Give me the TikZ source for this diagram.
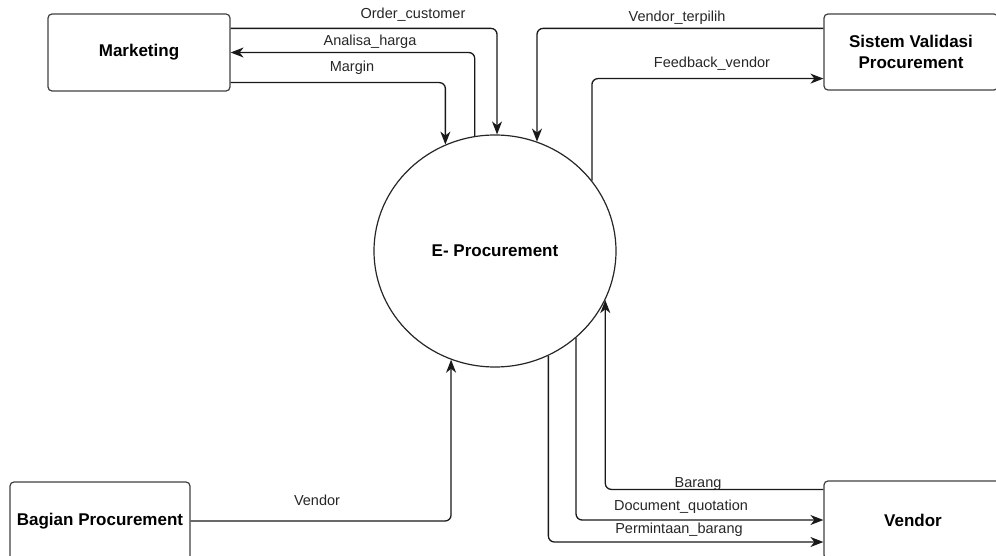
\documentclass[tikz,border=0pt]{standalone}
\usepackage{fontspec}
\setmainfont{Liberation Sans}
\usetikzlibrary{arrows.meta,calc,shapes.geometric}

\tikzset{
  entity/.style={draw=black!75, line width=1.2pt, rounded corners=4pt,
    rectangle, inner sep=0pt, align=center,
    font=\fontsize{17}{21}\selectfont\bfseries},
  process/.style={draw=black!85, line width=1.2pt, ellipse, inner sep=0pt,
    minimum width=242pt, minimum height=232pt,
    font=\fontsize{17}{21}\selectfont\bfseries},
  flow/.style={draw=black!90, line width=1.3pt, rounded corners=6pt,
    -{Stealth[length=13pt,width=10pt,inset=4pt]}},
  lbl/.style={inner sep=0pt, text=black!85,
    font=\fontsize{14.5}{17}\selectfont}
}

\begin{document}
\begin{tikzpicture}[x=1pt,y=-1pt]
  \useasboundingbox (0,0) rectangle (996,556);

  % external entities and the process
  \node[entity, minimum width=182pt, minimum height=77pt] (mkt) at (139,52.5) {Marketing};
  \node[entity, minimum width=174pt, minimum height=76pt] (sv) at (911,52) {Sistem Validasi\\Procurement};
  \node[entity, minimum width=180pt, minimum height=78pt] (bp) at (100,521) {Bagian Procurement};
  \node[entity, minimum width=178pt, minimum height=78pt] (vd) at (913,520) {Vendor};
  \node[process] (ep) at (495,251) {E- Procurement};

  % data flows with Marketing
  \draw[flow] ($(mkt.north east)+(0,15)$) -| (ep.89.5);
  \draw[flow] (ep.100.4) |- (mkt.east);
  \draw[flow] ($(mkt.south east)+(0,-9)$) -| (ep.115.9);

  % data flows with Sistem Validasi Procurement
  \draw[flow] ($(sv.north west)+(0,15)$) -| (ep.69.4);
  \draw[flow] (ep.36.3) |- ($(sv.south west)+(0,-12)$);

  % data flows with Vendor
  \draw[flow] ($(vd.north west)+(0,9)$) -| (ep.-24.8);
  \draw[flow] (ep.-47.4) |- (vd.west);
  \draw[flow] (ep.-63.6) |- ($(vd.west)+(0,22)$);

  % data flow from Bagian Procurement
  \draw[flow] (bp.east) -| (ep.248.9);

  % flow labels
  \node[lbl] (l1) at (413,15) {Order\_customer};
  \node[lbl] (l2) at (370,42) {Analisa\_harga};
  \node[lbl] (l3) at (352,68) {Margin};
  \node[lbl] (l4) at (677,18) {Vendor\_terpilih};
  \node[lbl] (l5) at (712,64) {Feedback\_vendor};
  \node[lbl] (l6) at (317,500) {Vendor};
  \node[lbl] (l7) at (698,484) {Barang};
  \node[lbl] (l8) at (681,507) {Document\_quotation};
  \node[lbl] (l9) at (679,530) {Permintaan\_barang};
\end{tikzpicture}
\end{document}
